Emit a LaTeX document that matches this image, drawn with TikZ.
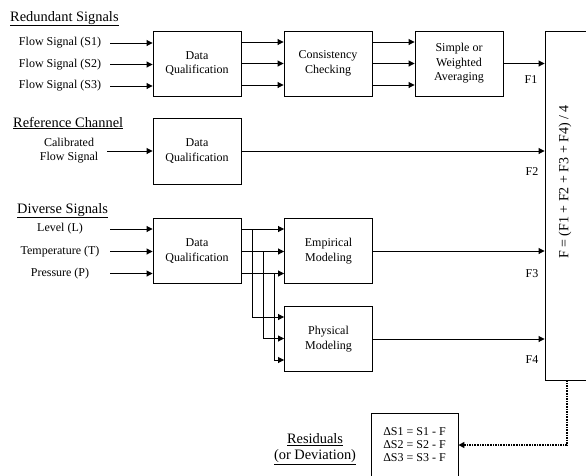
\documentclass[tikz,border=0pt]{standalone}
\usepackage{fontspec}
\setmainfont{Liberation Serif}
\usetikzlibrary{arrows.meta}

\tikzset{
  blk/.style={draw, line width=0.9pt, minimum width=88pt, minimum height=65pt,
    align=center, inner sep=0pt, font=\fontsize{12}{14.5}\selectfont},
  inlbl/.style={minimum width=100pt, inner sep=0pt, align=center,
    font=\fontsize{12}{14}\selectfont},
  hdg/.style={anchor=base west, inner sep=0pt, font=\fontsize{14.4}{16}\selectfont},
  flbl/.style={inner sep=0pt, font=\fontsize{12}{14}\selectfont},
  arr/.style={line width=0.9pt, -{Triangle[length=6pt,width=6pt]}},
  dotarr/.style={line width=1.6pt, densely dotted, -{Triangle[length=6pt,width=6pt]}}
}

\begin{document}
\begin{tikzpicture}[x=1pt,y=-1pt]

% sheet size:
\pgfmathsetmacro\pwidth{586};
\pgfmathsetmacro\pheight{475};

\useasboundingbox (0,0) rectangle (\pwidth,\pheight);
\clip (0,0) rectangle (\pwidth,\pheight);

% redundant signals
\node[hdg] (hred) at (10,21) {\underline{Redundant Signals}};
\node[inlbl] (s1) at (60,43) {Flow Signal (S1)};
\node[inlbl] (s2) at (60,64.5) {Flow Signal (S2)};
\node[inlbl] (s3) at (60,86) {Flow Signal (S3)};
\node[blk] (dq1) at (197,63.5) {Data\\Qualification};
\node[blk] (cc) at (328,63.5) {Consistency\\Checking};
\node[blk] (avg) at (459,63.5) {Simple or\\Weighted\\Averaging};

\foreach \s in {s1,s2,s3}
  \draw[arr] (\s.east) -- (dq1.west |- \s.east);
\foreach \dy in {-21.5,0,21.5}{
  \draw[arr] ([yshift=\dy pt]dq1.east) -- ([yshift=\dy pt]cc.west);
  \draw[arr] ([yshift=\dy pt]cc.east) -- ([yshift=\dy pt]avg.west);
}

% averaging block
\node[draw, line width=0.9pt, minimum width=50pt, minimum height=349pt, inner sep=0pt] (fbox) at (570,205.5) {};
\node[flbl, rotate=90, font=\fontsize{14}{16}\selectfont] (feq) at (565,182) {F = (F1 + F2 + F3 + F4) / 4};

\draw[arr] (avg.east) -- (fbox.west |- avg.east);
\node[flbl] (f1) at (531,80) {F1};

% reference channel
\node[hdg] (href) at (13,127) {\underline{Reference Channel}};
\node[inlbl, minimum width=76pt] (cal) at (69,151) {Calibrated\\Flow Signal};
\node[blk, minimum height=66pt] (dq2) at (197,151) {Data\\Qualification};

\draw[arr] (cal.east) -- (dq2.west |- cal.east);
\draw[arr] (dq2.east) -- (fbox.west |- dq2.east);
\node[flbl] (f2) at (532,172) {F2};

% diverse signals
\node[hdg] (hdiv) at (17,213) {\underline{Diverse Signals}};
\node[inlbl] (lv) at (60,229) {Level (L)};
\node[inlbl] (tp) at (60,251.5) {Temperature (T)};
\node[inlbl] (pr) at (60,273.5) {Pressure (P)};
\node[blk] (dq3) at (197,251) {Data\\Qualification};
\node[blk] (emp) at (328.5,251) {Empirical\\Modeling};
\node[blk] (phy) at (328.5,339) {Physical\\Modeling};

\foreach \s/\bx/\by in {lv/252/317, tp/263/338.5, pr/274/360}{
  \draw[arr] (\s.east) -- (dq3.west |- \s.east);
  \draw[arr] (dq3.east |- \s.east) -- (emp.west |- \s.east);
  \draw[arr] (\s.east -| \bx,0) |- (phy.west |- 0,\by);
}

\draw[arr] (emp.east) -- (fbox.west |- emp.east);
\node[flbl] (f3) at (532,274) {F3};
\draw[arr] (phy.east) -- (fbox.west |- phy.east);
\node[flbl] (f4) at (532,360) {F4};

% residuals
\node[blk, minimum width=87pt, minimum height=64pt, font=\fontsize{12}{13}\selectfont] (res) at (414.5,445)
  {ΔS1 = S1 - F\\ΔS2 = S2 - F\\ΔS3 = S3 - F};
\node[align=center, inner sep=0pt, font=\fontsize{14.4}{16}\selectfont] (hres) at (315,449)
  {\underline{Residuals}\\\underline{(or Deviation)}};
\coordinate (tap) at (567,380);
\draw[dotarr] (tap) |- (res.east);

\end{tikzpicture}
\end{document}
